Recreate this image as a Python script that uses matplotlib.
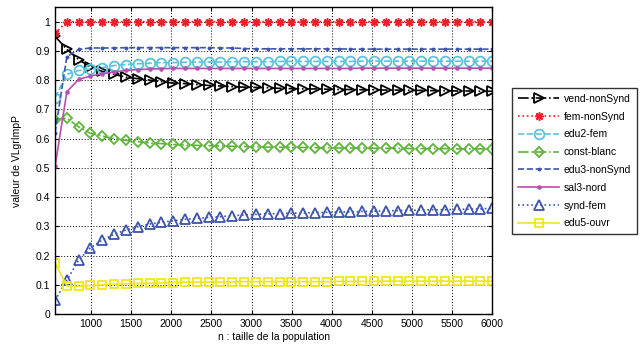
import numpy as np
import matplotlib
matplotlib.use('Agg')
import matplotlib.pyplot as plt

plt.rcParams['font.family'] = ['Liberation Sans', 'DejaVu Sans']

# Population sizes (38 runs from 550 to 6000)
n_values = np.linspace(550, 6000, 38)

vend_nonsynd = [0.95, 0.905, 0.87, 0.845, 0.83, 0.82, 0.81, 0.805, 0.80, 0.795,
                0.79, 0.788, 0.785, 0.782, 0.78, 0.778, 0.776, 0.775, 0.774, 0.772,
                0.771, 0.77, 0.77, 0.769, 0.768, 0.768, 0.767, 0.767, 0.766, 0.766,
                0.765, 0.765, 0.764, 0.764, 0.763, 0.763, 0.762, 0.762]
fem_nonsynd = [0.96] + [1.0] * 37
edu2_fem = [0.74, 0.82, 0.833, 0.838, 0.843, 0.85, 0.853, 0.856, 0.858, 0.86,
            0.86, 0.861, 0.862, 0.862, 0.862, 0.863, 0.863, 0.863, 0.863, 0.864,
            0.864, 0.864, 0.864, 0.864, 0.864, 0.864, 0.865, 0.865, 0.865, 0.865,
            0.865, 0.865, 0.865, 0.865, 0.865, 0.865, 0.865, 0.865]
const_blanc = [0.665, 0.67, 0.64, 0.618, 0.609, 0.60, 0.594, 0.59, 0.585, 0.583,
               0.58, 0.578, 0.577, 0.576, 0.575, 0.574, 0.573, 0.572, 0.571, 0.571,
               0.57, 0.57, 0.569, 0.569, 0.568, 0.568, 0.568, 0.567, 0.567, 0.567,
               0.566, 0.566, 0.566, 0.566, 0.565, 0.565, 0.565, 0.565]
edu3_nonsynd = [0.62, 0.88, 0.905, 0.91, 0.91, 0.91, 0.911, 0.911, 0.911, 0.911,
                0.911, 0.911, 0.911, 0.911, 0.91, 0.91, 0.908, 0.907, 0.907, 0.907,
                0.907, 0.907, 0.907, 0.907, 0.907, 0.906, 0.906, 0.906, 0.906, 0.906,
                0.906, 0.906, 0.906, 0.906, 0.906, 0.906, 0.906, 0.906]
sal3_nord = [0.505, 0.76, 0.803, 0.814, 0.822, 0.828, 0.833, 0.836, 0.838, 0.839,
             0.84, 0.84, 0.84, 0.84, 0.84, 0.84, 0.84, 0.84, 0.84, 0.84,
             0.84, 0.84, 0.84, 0.84, 0.84, 0.84, 0.841, 0.841, 0.841, 0.841,
             0.841, 0.841, 0.841, 0.841, 0.841, 0.841, 0.841, 0.841]
synd_fem = [0.047, 0.116, 0.185, 0.227, 0.253, 0.273, 0.288, 0.299, 0.308, 0.314,
            0.319, 0.324, 0.327, 0.331, 0.333, 0.337, 0.339, 0.341, 0.343, 0.344,
            0.345, 0.346, 0.347, 0.348, 0.349, 0.35, 0.351, 0.352, 0.353, 0.354,
            0.355, 0.356, 0.357, 0.357, 0.358, 0.359, 0.36, 0.362]
edu5_ouvr = [0.175, 0.097, 0.095, 0.098, 0.10, 0.102, 0.104, 0.105, 0.106, 0.107,
             0.108, 0.109, 0.11, 0.11, 0.11, 0.11, 0.111, 0.111, 0.111, 0.111,
             0.111, 0.111, 0.111, 0.111, 0.112, 0.112, 0.112, 0.112, 0.113, 0.113,
             0.113, 0.113, 0.113, 0.113, 0.113, 0.113, 0.113, 0.113]

fig = plt.figure(figsize=(6.4, 3.51), dpi=100)
ax = fig.add_axes([0.086, 0.105, 0.683, 0.875])

# (values, label, color, linestyle, marker, markersize, open marker)
series = [
    (vend_nonsynd, 'vend-nonSynd', 'black', '-.', '>', 7, True),
    (fem_nonsynd, 'fem-nonSynd', '#e8202a', ':', (8, 2, 0), 6, False),
    (edu2_fem, 'edu2-fem', '#5cc3dc', '--', 'o', 7, True),
    (const_blanc, 'const-blanc', '#5fb43c', '-.', 'D', 5.5, True),
    (edu3_nonsynd, 'edu3-nonSynd', '#3d55aa', '--', '.', 3, False),
    (sal3_nord, 'sal3-nord', '#b94fae', '-', '.', 4, False),
    (synd_fem, 'synd-fem', '#3d55aa', ':', '^', 7, True),
    (edu5_ouvr, 'edu5-ouvr', '#f0e61a', '-', 's', 6, True),
]

for values, label, color, ls, marker, ms, hollow in series:
    ax.plot(n_values, values, color=color, linestyle=ls, linewidth=1.2,
            marker=marker, markersize=ms,
            markeredgewidth=1.1 if marker == (8, 2, 0) else 1.3,
            markerfacecolor='none' if hollow else color,
            markeredgecolor=color, label=label)

ax.set_xlim(550, 6000)
ax.set_ylim(0, 1.05)
ax.set_xticks(np.arange(1000, 6001, 500))
ax.set_yticks(np.arange(0, 1.01, 0.1))
ax.set_yticklabels(['0', '0.1', '0.2', '0.3', '0.4', '0.5', '0.6', '0.7', '0.8', '0.9', '1'])
ax.tick_params(direction='in', labelsize=7.5, length=3, top=True, right=True)
ax.grid(True, color='black', linestyle=(0, (1, 2)), linewidth=0.7)
for spine in ax.spines.values():
    spine.set_linewidth(1.0)

ax.set_xlabel('n : taille de la population', fontsize=7.5, labelpad=2)
ax.set_ylabel('valeur de VLgrImpP', fontsize=7.5, labelpad=10)

leg = fig.legend(loc='upper left', bbox_to_anchor=(0.792, 0.764), fontsize=7.5,
                 frameon=True, fancybox=False, edgecolor='black',
                 handlelength=4.0, labelspacing=0.75, borderpad=0.55,
                 handletextpad=0.4)
leg.get_frame().set_linewidth(1.0)

fig.savefig('out.png', dpi=100)
